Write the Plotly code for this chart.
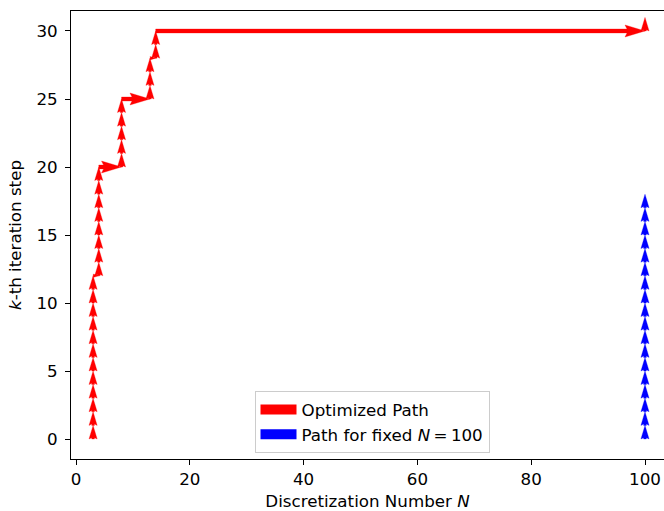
import math
import plotly.graph_objects as go

# Optimized path: (N, k) visited at each iteration step
opt_N = [3, 3, 3, 3, 3, 3, 3, 3, 3, 3, 3, 3, 3,
         4, 4, 4, 4, 4, 4, 4, 4, 4,
         8, 8, 8, 8, 8, 8,
         13, 13, 13, 13,
         14, 14, 14,
         100, 100]
opt_k = [0, 1, 2, 3, 4, 5, 6, 7, 8, 9, 10, 11, 12,
         12, 13, 14, 15, 16, 17, 18, 19, 20,
         20, 21, 22, 23, 24, 25,
         25, 26, 27, 28,
         28, 29, 30,
         30, 31]

# Path with the discretization held at N = 100
fixed_N = [100] * 19
fixed_k = [0, 1, 2, 3, 4, 5, 6, 7, 8, 9, 10, 11, 12, 13, 14, 15, 16, 17, 18]

x_ticks = [0, 20, 40, 60, 80, 100]
y_ticks = [0, 5, 10, 15, 20, 25, 30]

# Figure geometry
W, H = 664, 511
M_L, M_R, M_T, M_B = 71, 0, 11, 52
X_RANGE = [-0.88, 103.34]
Y_RANGE = [-1.47, 31.47]
plot_w = W - M_L - M_R
plot_h = H - M_T - M_B
sx = plot_w / (X_RANGE[1] - X_RANGE[0])  # px per data unit (x)
sy = plot_h / (Y_RANGE[1] - Y_RANGE[0])  # px per data unit (y)

# quiver-style arrow parameters (in shaft widths)
SHAFT_W = 4.0
HEAD_W, HEAD_L, HEAD_AXIS_L = 3.0, 5.0, 4.5


def arrow_polygon(x0, y0, x1, y1):
    """Arrow from (x0, y0) to (x1, y1) as a closed polygon in data units."""
    dxp = (x1 - x0) * sx
    dyp = (y1 - y0) * sy
    L = math.hypot(dxp, dyp)
    w = SHAFT_W
    minsh = HEAD_L * w
    if L < minsh:
        s = L / HEAD_L
        xs = [0, s * (HEAD_L - HEAD_AXIS_L), 0, L, 0, s * (HEAD_L - HEAD_AXIS_L), 0, 0]
        ys = [0.5 * s, 0.5 * s, 0.5 * HEAD_W * s, 0,
              -0.5 * HEAD_W * s, -0.5 * s, -0.5 * s, 0.5 * s]
    else:
        xs = [0, L - HEAD_AXIS_L * w, L - HEAD_L * w, L,
              L - HEAD_L * w, L - HEAD_AXIS_L * w, 0, 0]
        ys = [0.5 * w, 0.5 * w, 0.5 * HEAD_W * w, 0,
              -0.5 * HEAD_W * w, -0.5 * w, -0.5 * w, 0.5 * w]
    th = math.atan2(dyp, dxp)
    c, s_ = math.cos(th), math.sin(th)
    px = [x0 + (a * c - b * s_) / sx for a, b in zip(xs, ys)]
    py = [y0 + (a * s_ + b * c) / sy for a, b in zip(xs, ys)]
    return px, py


def path_arrows(ns, ks):
    X, Y = [], []
    for i in range(len(ns) - 1):
        px, py = arrow_polygon(ns[i], ks[i], ns[i + 1], ks[i + 1])
        X += px + [None]
        Y += py + [None]
    return X, Y


series = [
    ("Optimized Path", "#ff0000", opt_N, opt_k),
    ("Path for fixed <i>N</i>\u2009=\u2009100", "#0000ff", fixed_N, fixed_k),
]

fig = go.Figure()
for name, color, ns, ks in series:
    ax_, ay_ = path_arrows(ns, ks)
    fig.add_trace(go.Scatter(
        x=ax_, y=ay_, mode="lines", fill="toself", fillcolor=color,
        line=dict(color=color, width=0.3), showlegend=False,
        hoverinfo="skip", legendgroup=name,
    ))
    # legend swatch
    fig.add_trace(go.Scatter(
        x=[None], y=[None], mode="lines", name=name, legendgroup=name,
        line=dict(color=color, width=12),
    ))

FONT = "DejaVu Sans"
FS = 16.7

fig.update_layout(
    width=W, height=H,
    margin=dict(l=M_L, r=M_R, t=M_T, b=M_B, pad=0),
    plot_bgcolor="white", paper_bgcolor="white",
    font=dict(family=FONT, size=FS, color="black"),
    showlegend=True,
    legend=dict(
        x=0.5076, y=0.013, xanchor="center", yanchor="bottom",
        bgcolor="rgba(255,255,255,0.8)", bordercolor="#cccccc", borderwidth=1,
        font=dict(family=FONT, size=FS), tracegroupgap=0, itemwidth=36,
    ),
)
fig.update_xaxes(
    range=X_RANGE, tickvals=x_ticks, ticks="outside", ticklen=5, tickwidth=1.1,
    tickcolor="black", showline=True, linecolor="black", linewidth=1.1,
    mirror=True, showgrid=False, zeroline=False,
    title=dict(text="Discretization Number <i>N</i>", standoff=7,
               font=dict(family=FONT, size=FS)),
)
fig.update_yaxes(
    range=Y_RANGE, tickvals=y_ticks, ticks="outside", ticklen=5, tickwidth=1.1,
    tickcolor="black", showline=True, linecolor="black", linewidth=1.1,
    mirror=False, showgrid=False, zeroline=False, ticklabelstandoff=4,
    title=dict(text="<i>k</i>-th iteration step", standoff=10,
               font=dict(family=FONT, size=FS)),
)

fig.write_html("out.html")
